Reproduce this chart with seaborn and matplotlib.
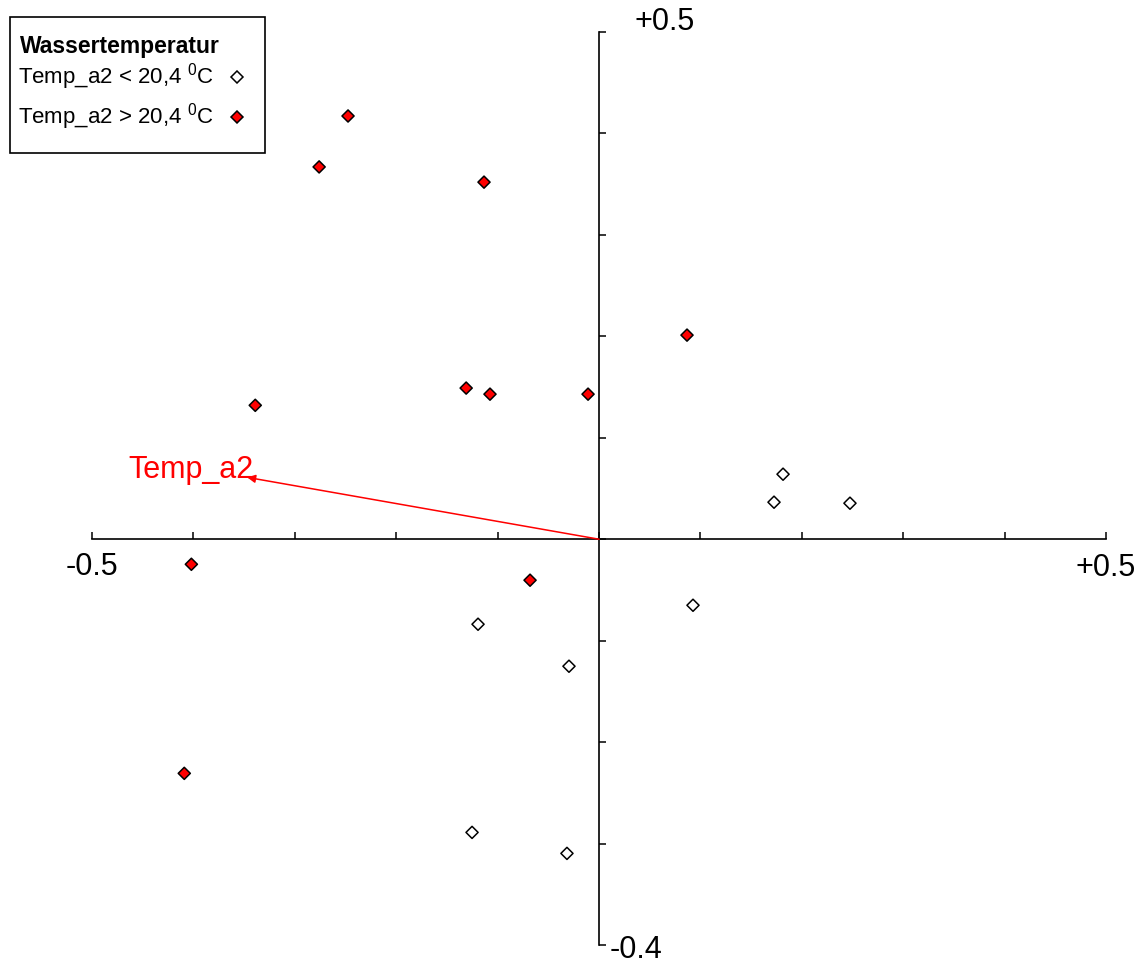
import matplotlib
matplotlib.use("Agg")
import matplotlib.pyplot as plt
from matplotlib.lines import Line2D
from matplotlib.patches import Rectangle
import numpy as np
import pandas as pd
import seaborn as sns

# Site scores on the first two ordination axes
warm_x = [-0.2475, -0.276, -0.1134, 0.0868, -0.339, -0.131, -0.1075, -0.0108, -0.402, -0.068, -0.409]
warm_y = [0.4172, 0.367, 0.352, 0.2012, 0.132, 0.149, 0.143, 0.143, -0.0247, -0.0404, -0.2308]
cool_x = [0.1815, 0.1726, 0.2475, 0.0927, -0.1193, -0.0296, -0.1252, -0.0316]
cool_y = [0.0641, 0.0365, 0.0355, -0.0651, -0.0838, -0.1252, -0.289, -0.3097]

# Environmental vector
vector_name = "Temp_a2"
vector_end = (-0.347, 0.061)

group_cool = "Temp_a2 < 20,4 $^{0}$C"
group_warm = "Temp_a2 > 20,4 $^{0}$C"
legend_title = "Wassertemperatur"
colors = {group_cool: "white", group_warm: "#ff0000"}

sns.set_style("white")
plt.rcParams["font.family"] = ["Liberation Sans", "DejaVu Sans"]
plt.rcParams["mathtext.fontset"] = "custom"
plt.rcParams["mathtext.rm"] = "Liberation Sans"
plt.rcParams["mathtext.it"] = "Liberation Sans"
plt.rcParams["text.color"] = "black"

df = pd.DataFrame({
    "x": cool_x + warm_x,
    "y": cool_y + warm_y,
    "group": [group_cool] * len(cool_x) + [group_warm] * len(warm_x),
})

W, H = 1138, 963
fig = plt.figure(figsize=(W / 100, H / 100), dpi=100)
ax = fig.add_axes([92 / W, 18 / H, 1014 / W, 913 / H])

sns.scatterplot(data=df, x="x", y="y", hue="group", marker="D", s=38,
                palette=colors, edgecolor="black", linewidth=1.1,
                ax=ax, zorder=3, legend=False)

ax.set_xlim(-0.5, 0.5)
ax.set_ylim(-0.4, 0.5)

# Axes crossing at the origin
for side in ("top", "right"):
    ax.spines[side].set_visible(False)
ax.spines["left"].set_position(("data", 0))
ax.spines["bottom"].set_position(("data", 0))
for side in ("left", "bottom"):
    ax.spines[side].set_linewidth(1.2)
    ax.spines[side].set_color("black")
ax.set_xticks(np.arange(-0.5, 0.51, 0.1))
ax.set_yticks(np.arange(-0.4, 0.51, 0.1))
ax.tick_params(axis="both", direction="in", length=5, width=1.1, color="black",
               bottom=True, left=True, labelbottom=False, labelleft=False)
ax.set_xlabel("")
ax.set_ylabel("")

# End labels of the axes
lab_kw = dict(fontsize=22, color="black", ha="center", va="center", clip_on=False)
ax.text(-0.5, -0.0276, "-0.5", **lab_kw)
ax.text(0.5, -0.0285, "+0.5", **lab_kw)
ax.text(0.065, 0.51, "+0.5", **lab_kw)
ax.text(0.0365, -0.405, "-0.4", **lab_kw)

# Environmental arrow
ax.annotate("", xy=vector_end, xytext=(0, 0),
            arrowprops=dict(arrowstyle="-|>", color="#ff0000", lw=1.1,
                            mutation_scale=12, shrinkA=0, shrinkB=0))
ax.text(-0.4645, 0.060, vector_name, color="#ff0000", fontsize=22,
        ha="left", va="baseline")

# Legend box drawn in figure pixels (origin top-left)
def fx(px):
    return px / W


def fy(py):
    return 1 - py / H


fig.add_artist(Rectangle((fx(10), fy(153)), fx(255), 136 / H, transform=fig.transFigure,
                         facecolor="white", edgecolor="black", linewidth=1.2))
fig.text(fx(20), fy(46), legend_title, fontsize=16.5, fontweight="bold",
         ha="left", va="center")
for label, ypx in ((group_cool, 77), (group_warm, 117)):
    fig.text(fx(18), fy(ypx), label, fontsize=16, ha="left", va="center")
    fig.add_artist(Line2D([fx(237)], [fy(ypx)], transform=fig.transFigure,
                          marker="D", markersize=6, linestyle="none",
                          markerfacecolor=colors[label], markeredgecolor="black",
                          markeredgewidth=1.1))

fig.savefig("out.png", dpi=100)
